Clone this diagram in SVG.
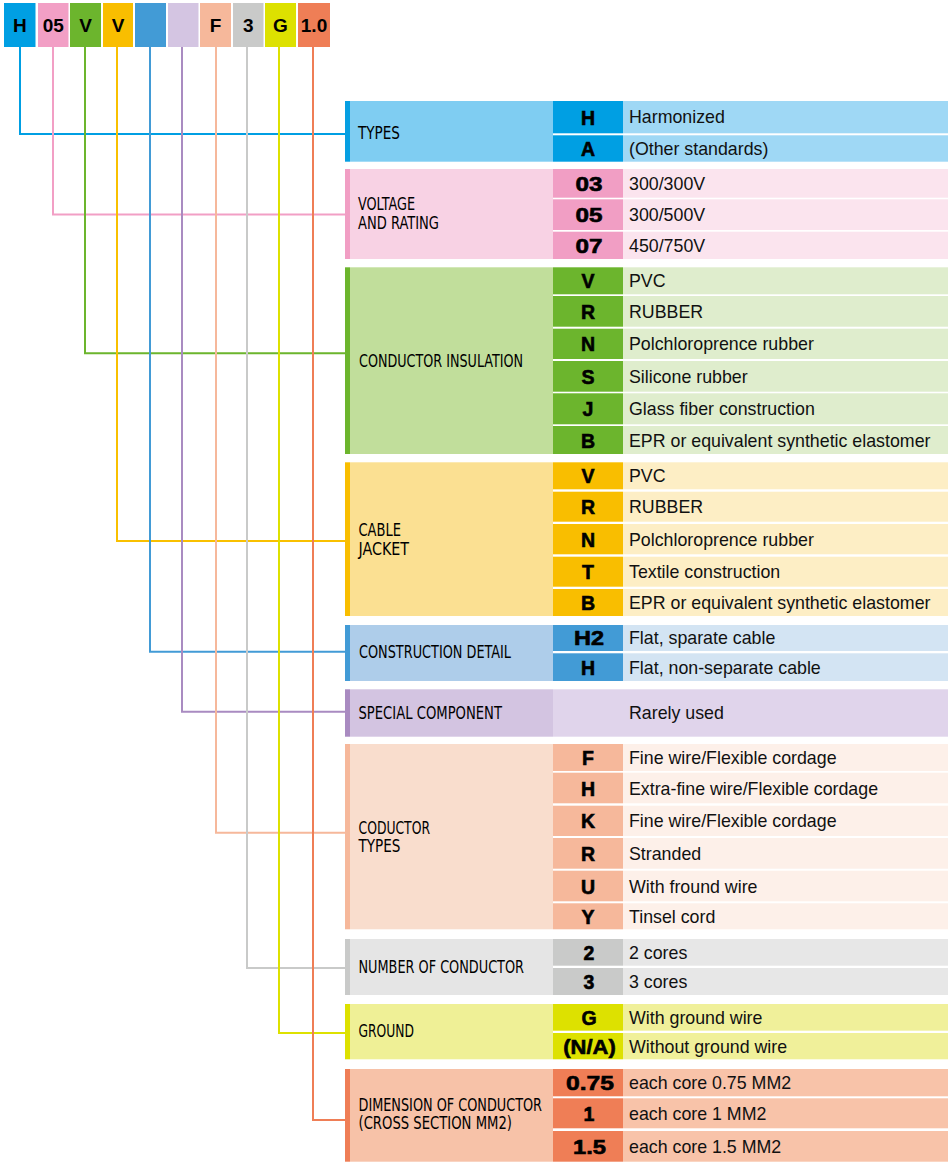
<svg xmlns="http://www.w3.org/2000/svg" width="952" height="1167" viewBox="0 0 952 1167">
<style>
.top{font-family:"Liberation Sans",Arial,sans-serif;font-weight:bold;font-size:19px;fill:#000;text-anchor:middle}
.lbl{font-family:"Liberation Sans Narrow","DejaVu Sans Condensed","Liberation Sans",sans-serif;font-size:17.5px;fill:#000}
.code{font-family:"Liberation Sans",Arial,sans-serif;font-weight:bold;font-size:19.5px;fill:#000;stroke:#000;stroke-width:0.6;text-anchor:middle}
.desc{font-family:"Liberation Sans",Arial,sans-serif;font-size:17.8px;fill:#111}
.con{fill:none;stroke-width:2}
</style>
<rect width="952" height="1167" fill="#fff"/>

<g id="code-boxes">
<rect x="4" y="3" width="31.5" height="44" fill="#009fe3"/><text class="top" x="19.8" y="31.5">H</text>
<rect x="38" y="3" width="30.5" height="44" fill="#f29fc5"/><text class="top" x="53.2" y="31.5">05</text>
<rect x="70" y="3" width="31" height="44" fill="#6cb52d"/><text class="top" x="85.5" y="31.5">V</text>
<rect x="103" y="3" width="30" height="44" fill="#f9be00"/><text class="top" x="118" y="31.5">V</text>
<rect x="135" y="3" width="31" height="44" fill="#429bd6"/>
<rect x="168" y="3" width="30.5" height="44" fill="#d4c5e2"/>
<rect x="200" y="3" width="31" height="44" fill="#f6b89b"/><text class="top" x="215.5" y="31.5">F</text>
<rect x="233" y="3" width="30.5" height="44" fill="#c9cac9"/><text class="top" x="248.2" y="31.5">3</text>
<rect x="265" y="3" width="31" height="44" fill="#dde100"/><text class="top" x="280.5" y="31.5">G</text>
<rect x="298" y="3" width="32" height="44" fill="#ef7e56"/><text class="top" x="314" y="31.5">1.0</text>
</g>

<g id="connectors">
<polyline class="con" stroke="#009fe3" points="20,47 20,134 345,134"/>
<polyline class="con" stroke="#f29fc5" points="53,47 53,214.5 345,214.5"/>
<polyline class="con" stroke="#6cb52d" points="85,47 85,353.3 345,353.3"/>
<polyline class="con" stroke="#f9c000" points="117,47 117,541 345,541"/>
<polyline class="con" stroke="#429bd6" points="150,47 150,651.7 345,651.7"/>
<polyline class="con" stroke="#a98bc1" points="182,47 182,711.7 345,711.7"/>
<polyline class="con" stroke="#f6b89b" points="216,47 216,832.7 345,832.7"/>
<polyline class="con" stroke="#c9cac9" points="247,47 247,968 345,968"/>
<polyline class="con" stroke="#dde100" points="279,47 279,1033 345,1033"/>
<polyline class="con" stroke="#ef7e56" points="313,47 313,1120 345,1120"/>
</g>

<g id="types">
<rect x="345" y="101" width="5" height="60.7" fill="#069fe2"/>
<rect x="350" y="101" width="203" height="60.7" fill="#7fcdf2"/>
<rect x="553" y="101" width="70" height="32.3" fill="#009fe3"/><rect x="623" y="101" width="325" height="32.3" fill="#9fd8f5"/>
<rect x="553" y="135.3" width="70" height="26.4" fill="#009fe3"/><rect x="623" y="135.3" width="325" height="26.4" fill="#9fd8f5"/>
<text class="lbl" x="358" y="139" textLength="42" lengthAdjust="spacingAndGlyphs">TYPES</text>
<text class="code" x="588" y="125">H</text><text class="desc" x="629" y="123">Harmonized</text>
<text class="code" x="588" y="156.2">A</text><text class="desc" x="629" y="155">(Other standards)</text>
</g>

<g id="voltage">
<rect x="345" y="169" width="5" height="90" fill="#f19ec4"/>
<rect x="350" y="169" width="203" height="90" fill="#f8d2e4"/>
<rect x="553" y="169" width="70" height="28.7" fill="#f19ec4"/><rect x="623" y="169" width="325" height="28.7" fill="#fbe4ee"/>
<rect x="553" y="199.3" width="70" height="30.7" fill="#f19ec4"/><rect x="623" y="199.3" width="325" height="30.7" fill="#fbe4ee"/>
<rect x="553" y="231.7" width="70" height="27.3" fill="#f19ec4"/><rect x="623" y="231.7" width="325" height="27.3" fill="#fbe4ee"/>
<text class="lbl" x="358" y="210" textLength="57" lengthAdjust="spacingAndGlyphs">VOLTAGE</text>
<text class="lbl" x="358" y="229" textLength="81" lengthAdjust="spacingAndGlyphs">AND RATING</text>
<text class="code" x="589" y="190.8" textLength="27" lengthAdjust="spacingAndGlyphs">03</text><text class="desc" x="629" y="189.8">300/300V</text>
<text class="code" x="589" y="222" textLength="27" lengthAdjust="spacingAndGlyphs">05</text><text class="desc" x="629" y="221">300/500V</text>
<text class="code" x="589" y="252.7" textLength="27" lengthAdjust="spacingAndGlyphs">07</text><text class="desc" x="629" y="251.8">450/750V</text>
</g>

<g id="insulation">
<rect x="345" y="267.3" width="5" height="186.7" fill="#6cb52d"/>
<rect x="350" y="267.3" width="203" height="186.7" fill="#c1de9b"/>
<rect x="553" y="267.3" width="70" height="27" fill="#6cb52d"/><rect x="623" y="267.3" width="325" height="27" fill="#dfedcd"/>
<rect x="553" y="296" width="70" height="30.7" fill="#6cb52d"/><rect x="623" y="296" width="325" height="30.7" fill="#dfedcd"/>
<rect x="553" y="328.7" width="70" height="30.3" fill="#6cb52d"/><rect x="623" y="328.7" width="325" height="30.3" fill="#dfedcd"/>
<rect x="553" y="361" width="70" height="30.7" fill="#6cb52d"/><rect x="623" y="361" width="325" height="30.7" fill="#dfedcd"/>
<rect x="553" y="393.3" width="70" height="31" fill="#6cb52d"/><rect x="623" y="393.3" width="325" height="31" fill="#dfedcd"/>
<rect x="553" y="426" width="70" height="28" fill="#6cb52d"/><rect x="623" y="426" width="325" height="28" fill="#dfedcd"/>
<text class="lbl" x="359" y="366.7" textLength="164" lengthAdjust="spacingAndGlyphs">CONDUCTOR INSULATION</text>
<text class="code" x="588" y="288.2">V</text><text class="desc" x="629" y="287.2">PVC</text>
<text class="code" x="588" y="318.8">R</text><text class="desc" x="629" y="317.8">RUBBER</text>
<text class="code" x="588" y="351.2">N</text><text class="desc" x="629" y="350.2">Polchloroprence rubber</text>
<text class="code" x="588" y="383.8">S</text><text class="desc" x="629" y="382.8">Silicone rubber</text>
<text class="code" x="588" y="416.2">J</text><text class="desc" x="629" y="415.2">Glass fiber construction</text>
<text class="code" x="588" y="447.6">B</text><text class="desc" x="629" y="446.5">EPR or equivalent synthetic elastomer</text>
</g>

<g id="jacket">
<rect x="345" y="462.3" width="5" height="153.7" fill="#f9be00"/>
<rect x="350" y="462.3" width="203" height="153.7" fill="#fbe092"/>
<rect x="553" y="462.3" width="70" height="27" fill="#f9be00"/><rect x="623" y="462.3" width="325" height="27" fill="#fdeec5"/>
<rect x="553" y="491.7" width="70" height="30" fill="#f9be00"/><rect x="623" y="491.7" width="325" height="30" fill="#fdeec5"/>
<rect x="553" y="524" width="70" height="30.3" fill="#f9be00"/><rect x="623" y="524" width="325" height="30.3" fill="#fdeec5"/>
<rect x="553" y="556.7" width="70" height="30" fill="#f9be00"/><rect x="623" y="556.7" width="325" height="30" fill="#fdeec5"/>
<rect x="553" y="589" width="70" height="27" fill="#f9be00"/><rect x="623" y="589" width="325" height="27" fill="#fdeec5"/>
<text class="lbl" x="358.5" y="536" textLength="42.5" lengthAdjust="spacingAndGlyphs">CABLE</text>
<text class="lbl" x="358.5" y="555" textLength="50.5" lengthAdjust="spacingAndGlyphs">JACKET</text>
<text class="code" x="588" y="483.2">V</text><text class="desc" x="629" y="482.2">PVC</text>
<text class="code" x="588" y="514.2">R</text><text class="desc" x="629" y="513.2">RUBBER</text>
<text class="code" x="588" y="546.7">N</text><text class="desc" x="629" y="545.7">Polchloroprence rubber</text>
<text class="code" x="588" y="579.2">T</text><text class="desc" x="629" y="578.2">Textile construction</text>
<text class="code" x="588" y="610.2">B</text><text class="desc" x="629" y="609">EPR or equivalent synthetic elastomer</text>
</g>

<g id="construction">
<rect x="345" y="625" width="5" height="56" fill="#429bd6"/>
<rect x="350" y="625" width="203" height="56" fill="#aecdea"/>
<rect x="553" y="625" width="70" height="26" fill="#429bd6"/><rect x="623" y="625" width="325" height="26" fill="#d3e4f3"/>
<rect x="553" y="653.3" width="70" height="27.7" fill="#429bd6"/><rect x="623" y="653.3" width="325" height="27.7" fill="#d3e4f3"/>
<text class="lbl" x="359" y="658.3" textLength="152" lengthAdjust="spacingAndGlyphs">CONSTRUCTION DETAIL</text>
<text class="code" x="589" y="645.2" textLength="30" lengthAdjust="spacingAndGlyphs">H2</text><text class="desc" x="629" y="644.3">Flat, sparate cable</text>
<text class="code" x="588" y="674.7">H</text><text class="desc" x="629" y="673.5">Flat, non-separate cable</text>
</g>

<g id="special">
<rect x="345" y="689.3" width="5" height="47.4" fill="#a98bc1"/>
<rect x="350" y="689.3" width="203" height="47.4" fill="#d3c4e1"/>
<rect x="553" y="689.3" width="395" height="47.4" fill="#e0d4eb"/>
<text class="lbl" x="358.5" y="719" textLength="143.5" lengthAdjust="spacingAndGlyphs">SPECIAL COMPONENT</text>
<text class="desc" x="629" y="719.3">Rarely used</text>
</g>

<g id="conductor-types">
<rect x="345" y="744" width="5" height="185.3" fill="#f6b89b"/>
<rect x="350" y="744" width="203" height="185.3" fill="#f9ddcd"/>
<rect x="553" y="744" width="70" height="27" fill="#f6b89b"/><rect x="623" y="744" width="325" height="27" fill="#fdf0e9"/>
<rect x="553" y="772.7" width="70" height="30.6" fill="#f6b89b"/><rect x="623" y="772.7" width="325" height="30.6" fill="#fdf0e9"/>
<rect x="553" y="805.7" width="70" height="30.3" fill="#f6b89b"/><rect x="623" y="805.7" width="325" height="30.3" fill="#fdf0e9"/>
<rect x="553" y="838" width="70" height="30.7" fill="#f6b89b"/><rect x="623" y="838" width="325" height="30.7" fill="#fdf0e9"/>
<rect x="553" y="870.7" width="70" height="30.6" fill="#f6b89b"/><rect x="623" y="870.7" width="325" height="30.6" fill="#fdf0e9"/>
<rect x="553" y="903.3" width="70" height="26" fill="#f6b89b"/><rect x="623" y="903.3" width="325" height="26" fill="#fdf0e9"/>
<text class="lbl" x="358.5" y="834" textLength="71.5" lengthAdjust="spacingAndGlyphs">CODUCTOR</text>
<text class="lbl" x="358.5" y="852.3" textLength="42" lengthAdjust="spacingAndGlyphs">TYPES</text>
<text class="code" x="588" y="764.7">F</text><text class="desc" x="629" y="763.7">Fine wire/Flexible cordage</text>
<text class="code" x="588" y="795.7">H</text><text class="desc" x="629" y="794.7">Extra-fine wire/Flexible cordage</text>
<text class="code" x="588" y="828.2">K</text><text class="desc" x="629" y="827.2">Fine wire/Flexible cordage</text>
<text class="code" x="588" y="861">R</text><text class="desc" x="629" y="860">Stranded</text>
<text class="code" x="588" y="893.5">U</text><text class="desc" x="629" y="892.5">With fround wire</text>
<text class="code" x="588" y="923.7">Y</text><text class="desc" x="629" y="922.7">Tinsel cord</text>
</g>

<g id="number">
<rect x="345" y="939" width="5" height="56" fill="#c9cac9"/>
<rect x="350" y="939" width="203" height="56" fill="#e5e5e5"/>
<rect x="553" y="939" width="70" height="26.7" fill="#c9cac9"/><rect x="623" y="939" width="325" height="26.7" fill="#e7e7e7"/>
<rect x="553" y="968" width="70" height="27" fill="#c9cac9"/><rect x="623" y="968" width="325" height="27" fill="#e7e7e7"/>
<text class="lbl" x="358.5" y="972.7" textLength="165.5" lengthAdjust="spacingAndGlyphs">NUMBER OF CONDUCTOR</text>
<text class="code" x="589" y="959.7">2</text><text class="desc" x="629" y="958.7">2 cores</text>
<text class="code" x="589" y="989.2">3</text><text class="desc" x="629" y="988">3 cores</text>
</g>

<g id="ground">
<rect x="345" y="1004" width="5" height="55.3" fill="#dde100"/>
<rect x="350" y="1004" width="203" height="55.3" fill="#eff096"/>
<rect x="553" y="1004" width="70" height="26.7" fill="#dde100"/><rect x="623" y="1004" width="325" height="26.7" fill="#f0f09a"/>
<rect x="553" y="1033" width="70" height="26.3" fill="#dde100"/><rect x="623" y="1033" width="325" height="26.3" fill="#f0f09a"/>
<text class="lbl" x="358.5" y="1037.3" textLength="55.5" lengthAdjust="spacingAndGlyphs">GROUND</text>
<text class="code" x="589" y="1024.7">G</text><text class="desc" x="629" y="1023.7">With ground wire</text>
<text class="code" x="589.5" y="1053.5" textLength="52.5" lengthAdjust="spacingAndGlyphs">(N/A)</text><text class="desc" x="629" y="1052.5">Without ground wire</text>
</g>

<g id="dimension">
<rect x="345" y="1069" width="5" height="92.7" fill="#ef7e56"/>
<rect x="350" y="1069" width="203" height="92.7" fill="#f7c2a8"/>
<rect x="553" y="1069" width="70" height="27.3" fill="#ef7e56"/><rect x="623" y="1069" width="325" height="27.3" fill="#f8c3a9"/>
<rect x="553" y="1098.3" width="70" height="30" fill="#ef7e56"/><rect x="623" y="1098.3" width="325" height="30" fill="#f8c3a9"/>
<rect x="553" y="1131" width="70" height="30.7" fill="#ef7e56"/><rect x="623" y="1131" width="325" height="30.7" fill="#f8c3a9"/>
<text class="lbl" x="358.5" y="1110.7" textLength="183.5" lengthAdjust="spacingAndGlyphs">DIMENSION OF CONDUCTOR</text>
<text class="lbl" x="358.5" y="1128.5" textLength="153.5" lengthAdjust="spacingAndGlyphs">(CROSS SECTION MM2)</text>
<text class="code" x="590" y="1090.2" textLength="48" lengthAdjust="spacingAndGlyphs">0.75</text><text class="desc" x="629" y="1089">each core 0.75 MM2</text>
<text class="code" x="589" y="1121">1</text><text class="desc" x="629" y="1119.8">each core 1 MM2</text>
<text class="code" x="589.5" y="1153.7" textLength="33" lengthAdjust="spacingAndGlyphs">1.5</text><text class="desc" x="629" y="1152.7">each core 1.5 MM2</text>
</g>
</svg>
